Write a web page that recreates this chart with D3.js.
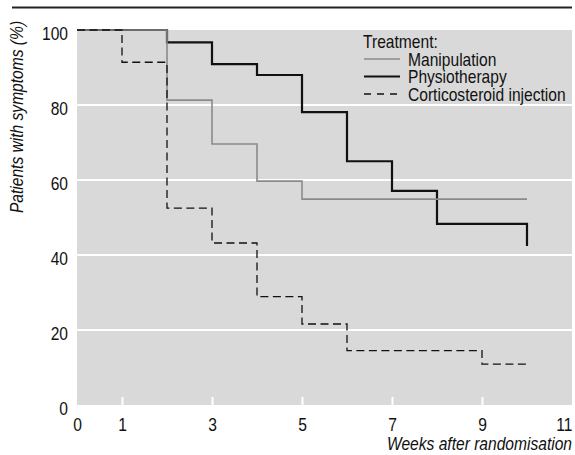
<!DOCTYPE html>
<html>
<head>
<meta charset="utf-8">
<script src="https://cdn.jsdelivr.net/npm/d3@7"></script>
<style>
  body { margin: 0; background: #fff; }
  svg text { font-family: "Liberation Sans", Arial, sans-serif; font-size: 19px; fill: #111; }
</style>
</head>
<body>
<script>
// Data (weeks, % of patients still with symptoms)
const manipWeeks = [0, 2, 3, 4, 5, 10];
const manipValues = [100, 81.3, 69.6, 59.7, 54.9, 54.9];

const physioWeeks = [0, 2, 3, 4, 5, 6, 7, 8, 10];
const physioValues = [100, 96.7, 90.9, 88, 78.1, 65, 57.1, 48.3, 42.4];

const steroidWeeks = [0, 1, 2, 3, 4, 5, 6, 9, 10];
const steroidValues = [100, 91.4, 52.5, 43.2, 28.9, 21.6, 14.5, 10.9, 10.9];

const xTicks = [0, 1, 3, 5, 7, 9, 11];
const xInnerTicks = [1, 3, 5, 7, 9];
const yTicks = [0, 20, 40, 60, 80, 100];
const gridValues = [20, 40, 60, 80];

const legendLabels = ["Manipulation", "Physiotherapy", "Corticosteroid injection"];

const width = 575, height = 455;
const plotLeft = 77, plotRight = 572, plotTop = 30, plotBottom = 405;
const squeeze = 0.82; // narrow type: horizontally squeezed sans

const svg = d3.select("body").append("svg")
    .attr("width", width)
    .attr("height", height);

const x = d3.scaleLinear().domain([0, 11]).range([plotLeft, plotRight]);
const y = d3.scaleLinear().domain([0, 100]).range([plotBottom, plotTop]);

// squeeze glyphs to look like a narrow face
function narrow(texts) {
    texts.each(function() {
        let len = this.getComputedTextLength();
        d3.select(this)
            .attr("textLength", (len * squeeze).toFixed(1))
            .attr("lengthAdjust", "spacingAndGlyphs");
    });
}

// rule across the top
svg.append("line")
    .attr("x1", 12).attr("x2", plotRight)
    .attr("y1", 7.5).attr("y2", 7.5)
    .attr("stroke", "#222").attr("stroke-width", 2);

// plot background
svg.append("rect")
    .attr("x", plotLeft).attr("y", plotTop)
    .attr("width", plotRight - plotLeft).attr("height", plotBottom - plotTop)
    .attr("fill", "#d9d9d9");

// white gridlines
svg.selectAll(".grid")
    .data(gridValues)
    .enter().append("line")
    .attr("x1", plotLeft).attr("x2", plotRight)
    .attr("y1", d => y(d)).attr("y2", d => y(d))
    .attr("stroke", "#fff").attr("stroke-width", 2);

// little white ticks up from the bottom
svg.append("g")
    .attr("transform", `translate(0,${plotBottom})`)
    .call(d3.axisTop(x).tickValues(xInnerTicks).tickSize(8).tickFormat(""))
    .call(g => g.select(".domain").remove())
    .call(g => g.selectAll("line").attr("stroke", "#fff").attr("stroke-width", 2));

// x axis labels
svg.append("g")
    .attr("transform", `translate(0,${plotBottom})`)
    .call(d3.axisBottom(x).tickValues(xTicks).tickSize(0).tickPadding(13))
    .call(g => g.select(".domain").remove())
    .call(g => g.attr("font-family", null).attr("font-size", null))
    .call(g => g.selectAll("text")
        .attr("fill", "#111")
        .attr("text-anchor", d => d === 11 ? "end" : "middle")
        .call(narrow));

// y axis labels
svg.append("g")
    .attr("transform", `translate(${plotLeft},0)`)
    .call(d3.axisLeft(y).tickValues(yTicks).tickSize(0).tickPadding(9))
    .call(g => g.select(".domain").remove())
    .call(g => g.attr("font-family", null).attr("font-size", null))
    .call(g => g.selectAll("text")
        .attr("fill", "#111")
        .attr("dy", "0.5em")
        .call(narrow));

// axis titles
svg.append("text")
    .attr("transform", "translate(23,117) rotate(-90)")
    .attr("text-anchor", "middle")
    .style("font-style", "italic")
    .text("Patients with symptoms (%)")
    .call(narrow);

svg.append("text")
    .attr("x", plotRight).attr("y", 450)
    .attr("text-anchor", "end")
    .style("font-style", "italic")
    .text("Weeks after randomisation")
    .call(narrow);

// step lines
const line = d3.line()
    .x(d => x(d[0]))
    .y(d => y(d[1]))
    .curve(d3.curveStepAfter);

const series = [
    { weeks: physioWeeks, values: physioValues, stroke: "#111", width: 2.2, dash: null },
    { weeks: manipWeeks, values: manipValues, stroke: "#8a8a8a", width: 1.6, dash: null },
    { weeks: steroidWeeks, values: steroidValues, stroke: "#111", width: 1.3, dash: "8,4.5" }
];

series.forEach(s => {
    svg.append("path")
        .datum(d3.zip(s.weeks, s.values))
        .attr("fill", "none")
        .attr("stroke", s.stroke)
        .attr("stroke-width", s.width)
        .attr("stroke-dasharray", s.dash)
        .attr("d", line);
});

// legend
const legendStyle = [series[1], series[0], series[2]];
const legend = svg.append("g");

legend.append("text")
    .attr("x", 363).attr("y", 48)
    .text("Treatment:")
    .call(narrow);

legendLabels.forEach((label, i) => {
    let yy = 65.5 + i * 17.5;
    let s = legendStyle[i];
    legend.append("line")
        .attr("x1", 364).attr("x2", 400)
        .attr("y1", yy - 6.5).attr("y2", yy - 6.5)
        .attr("stroke", s.stroke)
        .attr("stroke-width", s.width)
        .attr("stroke-dasharray", s.dash ? "7,6" : null);
    legend.append("text")
        .attr("x", 408).attr("y", yy)
        .text(label)
        .call(narrow);
});
</script>
</body>
</html>
